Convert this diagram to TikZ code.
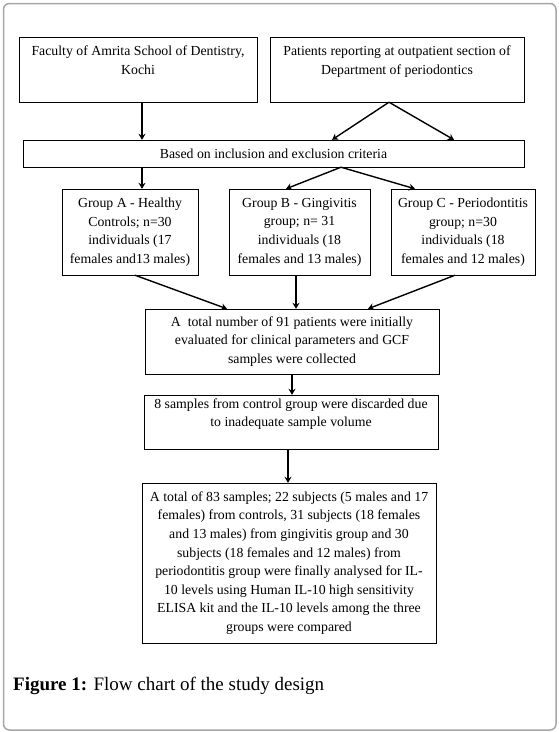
\documentclass[tikz,border=0pt]{standalone}
\usepackage{fontspec}
\setmainfont{Liberation Serif}
\usetikzlibrary{arrows.meta}

\begin{document}
\begin{tikzpicture}
      [x=1pt,y=-1pt
      ,box/.style={draw,thin,align=center,inner sep=2pt,font=\fontsize{13.8}{18.6}\selectfont}
      ,arr/.style={draw,line width=1.4pt,-{Stealth[length=6pt,width=7pt]}}
      ]
        \useasboundingbox (0,0) rectangle (559,732);
        \draw[gray!70,line width=1.5pt,rounded corners=6pt] (3.5,3.5) rectangle (556,730);
        % top row
        \node[box,minimum width=238pt,minimum height=65pt] (fac) at (138,69.5)
          {Faculty of Amrita School of Dentistry,\\Kochi\\~};
        \node[box,minimum width=254pt,minimum height=65pt] (pat) at (397,69.5)
          {Patients reporting at outpatient section of\\Department of periodontics\\~};
        \node[box,minimum width=501pt,minimum height=27pt] (crit) at (273.5,153.5)
          {Based on inclusion and exclusion criteria};
        % groups
        \node[box,minimum width=135.5pt,minimum height=86pt] (ga) at (130,232)
          {Group A - Healthy\\Controls; n=30\\individuals (17\\females and13 males)};
        \node[box,minimum width=141pt,minimum height=86pt] (gb) at (299.5,232)
          {Group B - Gingivitis\\group; n= 31\\individuals (18\\females and 13 males)};
        \node[box,minimum width=144pt,minimum height=86pt] (gc) at (463,232)
          {Group C - Periodontitis\\group; n=30\\individuals (18\\females and 12 males)};
        % lower part
        \node[box,minimum width=294pt,minimum height=65pt] (tot) at (292,341.5)
          {A\ \ total number of 91 patients were initially\\evaluated for clinical parameters and GCF\\samples were collected};
        \node[box,minimum width=294pt,minimum height=54pt] (disc) at (291,422)
          {8 samples from control group were discarded due\\to inadequate sample volume\\~};
        \node[box,minimum width=294pt,minimum height=160pt] (fin) at (289,563)
          {A total of 83 samples; 22 subjects (5 males and 17\\females) from controls, 31 subjects (18 females\\and 13 males) from gingivitis group and 30\\subjects (18 females and 12 males) from\\periodontitis group were finally analysed for IL-\\10 levels using Human IL-10 high sensitivity\\ELISA kit and the IL-10 levels among the three\\groups were compared};
        \node[anchor=base west,inner sep=0pt,font=\fontsize{19}{22}\selectfont] (cap) at (13,690)
          {\textbf{Figure 1:} Flow chart of the study design};
        % connectors
        \draw[arr] ([xshift=4pt]fac.south) -- ([xshift=4pt]fac.south |- crit.north);
        \draw[arr] ([xshift=-8pt]pat.south) -- ([xshift=58.5pt]crit.north);
        \draw[arr] ([xshift=-8pt]pat.south) -- ([xshift=180.5pt]crit.north);
        \draw[arr] ([xshift=12pt]ga.north |- crit.south) -- ([xshift=12pt]ga.north);
        \draw[arr] ([xshift=67.5pt]crit.south) -- ([xshift=-13.5pt]gb.north);
        \draw[arr] ([xshift=67.5pt]crit.south) -- ([xshift=-48pt]gc.north);
        \draw[arr] ([xshift=5pt]ga.south) -- ([xshift=-65pt]tot.north);
        \draw[arr] ([xshift=-3.5pt]gb.south) -- ([xshift=-3.5pt]gb.south |- tot.north);
        \draw[arr] ([xshift=-8pt]gc.south) -- ([xshift=76pt]tot.north);
        \draw[arr] (tot.south) -- (tot.south |- disc.north);
        \draw[arr] ([xshift=-3pt]disc.south) -- ([xshift=-3pt]disc.south |- fin.north);
      \end{tikzpicture}
\end{document}
